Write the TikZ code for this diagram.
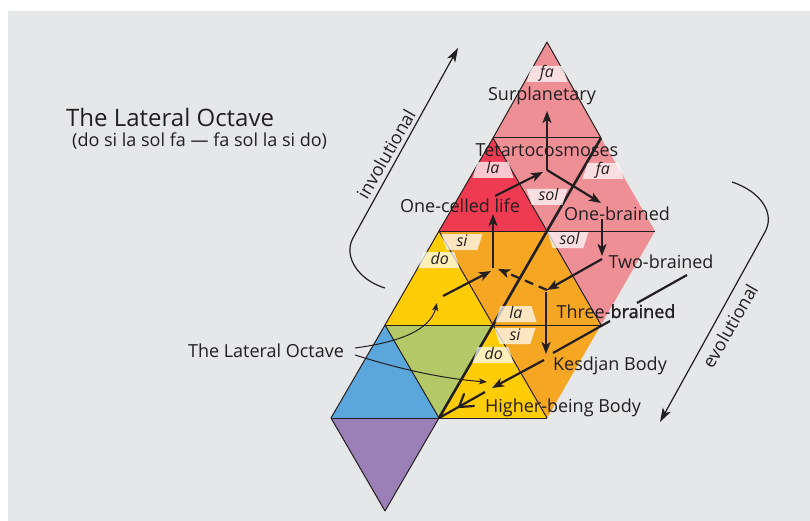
\documentclass[tikz,border=0pt]{standalone}
\usepackage{fontspec}
\setsansfont{Open Sans}
\newfontface\heavier{Open Sans}[FakeBold=1.6]
\usetikzlibrary{arrows.meta,shapes.geometric}

\begin{document}
\begin{tikzpicture}[x=1pt,y=-1pt,font=\sffamily]
\definecolor{ink}{RGB}{35,31,32}
\definecolor{paper}{RGB}{230,231,232}
\definecolor{fapink}{RGB}{238,143,150}
\definecolor{lared}{RGB}{239,59,82}
\definecolor{siorange}{RGB}{245,166,35}
\definecolor{doyellow}{RGB}{255,204,8}
\definecolor{leafgreen}{RGB}{180,200,104}
\definecolor{skyblue}{RGB}{91,166,219}
\definecolor{plum}{RGB}{154,128,182}

\tikzset{
  cell/.style={ink,line width=1pt,line join=round},
  spine/.style={ink,line width=2.6pt,line join=round},
  flow/.style={ink,line width=2.2pt,-{Stealth[length=12pt,width=9pt,inset=3pt]}},
  lead/.style={ink,line width=1pt,-{Stealth[length=8pt,width=6pt,inset=2pt]}},
  sweep/.style={ink,line width=1.2pt,-{Stealth[length=14pt,width=9pt,inset=3.5pt]}},
  stage/.style={text=ink,anchor=base,inner sep=0pt,font=\sffamily\fontsize{18}{21}\selectfont},
  notebox/.style={trapezium,trapezium left angle=72,trapezium right angle=72,
    text width=17pt,align=center,inner xsep=3pt,inner ysep=0pt,
    text height=10pt,text depth=2pt,minimum height=16pt,
    fill=white,fill opacity=0.72,text opacity=1,text=ink,
    font=\sffamily\itshape\fontsize{16}{16}\selectfont},
  noteboxdown/.style={notebox,trapezium left angle=108,trapezium right angle=108}
}

\useasboundingbox (0,0) rectangle (810,521);
\fill[white] (0,0) rectangle (810,521);
\fill[paper] (8,11) rectangle (810,521);

% lattice points, row by row from the bottom
\coordinate (pp) at (385,511);
\coordinate (a0) at (331,418);
\coordinate (a1) at (439,418);
\coordinate (a2) at (547,418);
\coordinate (b0) at (385,325);
\coordinate (b1) at (493,325);
\coordinate (b2) at (601,325);
\coordinate (c0) at (439,231);
\coordinate (c1) at (547,231);
\coordinate (c2) at (655,231);
\coordinate (d0) at (493,138);
\coordinate (d1) at (601,138);
\coordinate (e0) at (547,42);

% coloured triangles
\foreach \p/\q/\r/\col in {a0/a1/b0/skyblue,a0/a1/pp/plum,b0/b1/a1/leafgreen,
    a1/a2/b1/doyellow,b1/b2/a2/siorange,b0/b1/c0/doyellow,c0/c1/b1/siorange,
    b1/b2/c1/siorange,c1/c2/b2/fapink,c0/c1/d0/lared,d0/d1/c1/fapink,
    c1/c2/d1/fapink,d0/d1/e0/fapink}
  \fill[\col] (\p) -- (\q) -- (\r) -- cycle;

% outlines
\draw[cell] (pp) -- (a0) -- (b0) -- (c0) -- (d0) -- (e0) -- (d1);
\draw[cell] (pp) -- (a1) (b0) -- (a1) (c0) -- (b1) -- (a2) (d0) -- (c1) -- (b2);
\draw[cell] (a0) -- (a2) (b0) -- (b2) (c0) -- (c2) (d0) -- (d1);
\draw[spine] (a1) -- (b1) -- (c1) -- (d1);

% note names
\node[notebox] (fatop) at (547,74) {fa};
\node[notebox] (lahigh) at (493,170) {la};
\node[notebox] (faright) at (603,171) {fa};
\node[noteboxdown] (solhigh) at (547,197) {sol};
\node[noteboxdown] (sollow) at (568,240) {sol};
\node[noteboxdown] (sihigh) at (462,242) {si};
\node[notebox] (dohigh) at (439,260) {do};
\node[notebox] (lalow) at (516,314) {la};
\node[noteboxdown] (silow) at (515,336) {si};
\node[notebox] (dolow) at (493,355) {do};

% stages
\node[stage] (surp) at (542,101) {Surplanetary};
\node[stage] (tetra) at (547,157) {Tetartocosmoses};
\node[stage] (onecell) at (460,213) {One-celled life};
\node[stage] (onebrain) at (617,221) {One-brained};
\node[stage] (twobrain) at (661,268) {Two-brained};
\node[stage] (threebrain) at (616,318) {Three-{\heavier brained}};
\node[stage] (kesdjan) at (610,370) {Kesdjan Body};
\node[stage] (higher) at (563,412) {Higher-being Body};

% arrow ends
\coordinate (hubT) at (547,170);
\coordinate (toSurp) at (547,111);
\coordinate (toOneBr) at (601,203);
\coordinate (cellOut) at (495,196);
\coordinate (cellIn) at (543,172);
\coordinate (oneBrOut) at (602,219);
\coordinate (oneBrIn) at (602,256);
\coordinate (twoBrOut) at (602,259);
\coordinate (hubR) at (547,290);
\coordinate (hubL) at (493,268);
\coordinate (toCell) at (493,214);
\coordinate (doOut) at (443,296);
\coordinate (doIn) at (491,271);
\coordinate (dashIn) at (498,269);
\coordinate (kesTop) at (546,292);
\coordinate (kesIn) at (546,354);
\coordinate (kesOut) at (544,360);
\coordinate (kesTip) at (492,388);
\coordinate (hbOut) at (485,392);
\coordinate (hbTip) at (459,407);
\coordinate (leadA) at (687,275);
\coordinate (leadB) at (637,303);
\coordinate (leadC) at (610,321);
\coordinate (leadD) at (553,353);

\draw[flow] (hubT) -- (toSurp);
\draw[flow] (hubT) -- (toOneBr);
\draw[flow] (cellOut) -- (cellIn);
\draw[flow] (oneBrOut) -- (oneBrIn);
\draw[flow] (twoBrOut) -- (hubR);
\draw[flow,dash pattern=on 9pt off 6pt] (hubR) -- (dashIn);
\draw[flow] (hubL) -- (toCell);
\draw[flow] (doOut) -- (doIn);
\draw[flow] (kesTop) -- (kesIn);
\draw[flow] (kesOut) -- (kesTip);
\draw[ink,line width=2.2pt] (hbOut) -- (a1);
\draw[ink,line width=2.2pt,line cap=round] ([shift={(5,-13)}]hbTip) -- (hbTip) -- ([shift={(15,-1)}]hbTip);
\draw[ink,line width=2.2pt] (leadA) -- (leadB) (leadC) -- (leadD);

% the lateral octave pointers
\node[stage] (latlabel) at (266,357) {The Lateral Octave};
\coordinate (latA) at (355,348);
\coordinate (latB) at (355,355);
\coordinate (latUp) at (437,303);
\coordinate (latIn) at (487,382);
\draw[lead] (latA) .. controls (400,342) and (430,330) .. (latUp);
\draw[lead] (latB) .. controls (390,366) and (435,378) .. (latIn);

% involutional and evolutional sweeps
\coordinate (invStart) at (385,288);
\coordinate (invBend) at (353,238);
\coordinate (invTip) at (458,48);
\draw[sweep] (invStart) .. controls (358,280) and (343,256) .. (invBend) -- (invTip);
\node[stage,anchor=center,rotate=60] (inv) at (386,154) {involutional};
\coordinate (evoStart) at (732,182);
\coordinate (evoBend) at (765,232);
\coordinate (evoTip) at (660,422);
\draw[sweep] (evoStart) .. controls (762,192) and (775,214) .. (evoBend) -- (evoTip);
\node[stage,anchor=center,rotate=60] (evo) at (730,326) {evolutional};

% title
\node[stage,anchor=base west,font=\sffamily\fontsize{24}{28}\selectfont] (title) at (66,127) {The Lateral Octave};
\node[stage,anchor=base west] (subtitle) at (72,147) {(do si la sol fa — fa sol la si do)};
\end{tikzpicture}
\end{document}
